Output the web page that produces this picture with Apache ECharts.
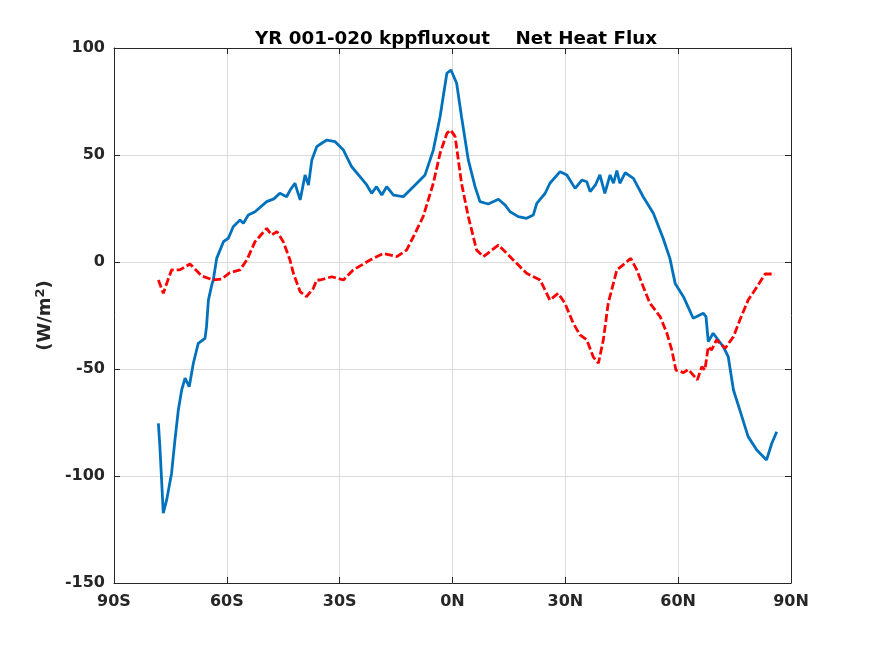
<!DOCTYPE html>
<html>
<head>
<meta charset="utf-8" />
<script src="https://cdn.jsdelivr.net/npm/echarts@6/dist/echarts.min.js"></script>
<style>
  html, body { margin: 0; padding: 0; background: #fff; }
  #chart { width: 875px; height: 656px; }
</style>
</head>
<body>
<div id="chart"></div>
<script>
// tick labels for the latitude axis
var xTickValues = [-90, -60, -30, 0, 30, 60, 90];
var xTickLabels = ['90S', '60S', '30S', '0N', '30N', '60N', '90N'];

// blue curve (solid)
var blueLat = [-78.2, -77.8, -77.3, -76.9, -76.0, -74.7, -73.8, -72.9, -72.0, -71.1, -70.0, -68.9, -67.6,
  -65.8, -65.4, -64.9, -64.0, -63.6, -62.7, -60.9, -59.6, -58.3, -56.5, -55.6, -54.3, -52.5, -49.4, -47.5,
  -45.9, -44.1, -43.2, -41.9, -40.5, -39.2, -38.3, -37.4, -36.1, -34.7, -33.4, -31.2, -29.0, -26.8, -24.6,
  -22.8, -21.5, -20.2, -18.8, -17.5, -15.7, -13.1, -10.4, -7.3, -5.1, -3.3, -1.5, -0.4, 1.1, 2.4, 4.2,
  6.0, 7.3, 9.5, 12.2, 14.0, 15.3, 17.5, 19.7, 21.5, 22.4, 24.6, 25.9, 28.6, 30.4, 32.6, 34.4, 35.7, 36.6,
  38.0, 39.2, 40.5, 41.9, 42.8, 43.7, 44.5, 45.9, 48.1, 50.7, 53.4, 56.0, 57.8, 59.2, 61.4, 64.0, 66.7,
  67.4, 68.0, 69.3, 72.0, 73.3, 74.7, 76.4, 78.6, 80.9, 83.5, 84.9, 86.2];
var blueVal = [-75.4, -86.3, -103.4, -117.4, -111.2, -98.8, -83.2, -69.2, -59.8, -54.3, -58.3, -47.3, -38.0,
  -35.7, -30.2, -17.8, -10.7, -8.4, 1.7, 9.5, 11.1, 16.5, 19.6, 18.1, 22.0, 23.5, 28.2, 29.5,
  32.1, 30.5, 33.5, 36.8, 29.0, 40.7, 36.0, 47.7, 53.9, 55.6, 57.0, 56.2, 52.3, 44.5, 39.9,
  36.0, 32.1, 35.2, 31.3, 35.2, 31.3, 30.5, 35.2, 40.7, 52.3, 67.9, 88.2, 89.7, 83.5, 67.9, 47.7,
  35.2, 28.2, 27.1, 29.3, 26.6, 23.5, 21.2, 20.4, 22.0, 27.4, 32.0, 36.8, 42.2, 40.7, 34.4, 38.3, 37.5, 32.9,
  36.0, 40.7, 32.1, 40.7, 36.8, 42.7, 36.8, 41.7, 39.1, 30.5, 22.8, 11.1, 1.7, -10.0, -16.2, -26.3, -24.0,
  -25.5, -37.2, -33.3, -39.6, -44.2, -59.8, -69.2, -81.6, -87.9, -92.5, -84.7, -79.3];

// red curve (dashed)
var redLat = [-78.2, -76.9, -74.7, -72.5, -69.8, -66.7, -63.6, -61.4, -59.2, -56.5, -54.7, -52.5, -49.4,
  -48.1, -46.7, -45.0, -43.2, -42.3, -40.5, -38.8, -37.0, -36.1, -35.2, -32.1, -29.0, -26.4, -21.9, -18.4,
  -14.8, -12.2, -10.4, -7.8, -5.1, -3.3, -1.5, -0.5, 0.7, 2.4, 4.2, 6.4, 8.2, 12.2, 15.3, 17.5, 19.7, 23.3,
  25.9, 28.1, 29.9, 32.1, 33.9, 35.7, 37.4, 38.8, 40.1, 41.4, 43.7, 45.9, 47.4, 49.0, 50.7, 52.5, 55.2, 57.0,
  58.3, 59.4, 61.4, 62.7, 65.1, 66.3, 67.1, 68.0, 68.9, 70.2, 72.5, 74.7, 76.4, 78.6, 80.4, 83.1, 85.7];
var redVal = [-8.4, -14.6, -3.7, -3.7, -0.9, -6.5, -8.4, -8.0, -5.0, -3.7, 0.9, 9.5, 15.7,
  12.6, 14.2, 9.5, 0.9, -5.3, -13.9, -16.2, -12.3, -8.4, -8.4, -6.9, -8.4, -3.7, 0.9, 4.0,
  2.5, 5.6, 11.8, 21.2, 36.8, 50.8, 60.1, 61.7, 58.6, 36.8, 21.2, 5.6, 2.5, 7.9, 2.5, -1.4, -5.3, -8.4,
  -17.8, -14.6, -19.3, -28.6, -34.1, -36.4, -44.3, -47.3, -36.4, -19.3, -3.7, -0.6, 1.7, -3.7, -11.5, -19.3, -25.5, -33.3,
  -41.1, -50.5, -51.7, -50.2, -55.1, -48.9, -50.5, -39.6, -41.1, -36.4, -40.3, -34.9, -27.1, -17.8, -13.1, -5.6, -5.6];

function pairs(xs, ys) {
  return xs.map(function (x, i) { return [x, ys[i]]; });
}

var font = 'DejaVu Sans';
var chart = echarts.init(document.getElementById('chart'));
chart.setOption({
  backgroundColor: '#ffffff',
  animation: false,
  title: {
    text: 'YR 001-020 kppfluxout    Net Heat Flux',
    left: 451, top: 25, textAlign: 'center',
    textStyle: { fontFamily: font, fontSize: 18.3, fontWeight: 'bold', color: '#000' }
  },
  grid: { left: 114, right: 84, top: 48, bottom: 73, containLabel: false },
  xAxis: [{
    type: 'value', min: -90, max: 90, interval: 30,
    axisLine: { onZero: false, lineStyle: { color: '#262626', width: 1 } },
    axisTick: { inside: true, length: 6, lineStyle: { color: '#262626' } },
    axisLabel: {
      margin: 11, fontFamily: font, fontSize: 16, fontWeight: 'bold', color: '#262626',
      formatter: function (v) { return xTickLabels[xTickValues.indexOf(v)]; }
    },
    splitLine: { show: true, lineStyle: { color: '#dcdcdc', width: 1 } }
  }, {
    type: 'value', min: -90, max: 90, interval: 30, position: 'top',
    axisLine: { onZero: false, lineStyle: { color: '#262626', width: 1 } },
    axisTick: { inside: true, length: 6, lineStyle: { color: '#262626' } },
    axisLabel: { show: false }, splitLine: { show: false }
  }],
  yAxis: [{
    type: 'value', min: -150, max: 100, interval: 50,
    name: '(W/m{sup|2})', nameLocation: 'middle', nameGap: 57, nameRotate: 90,
    nameTextStyle: {
      fontFamily: font, fontSize: 18, fontWeight: 'bold', color: '#262626',
      rich: { sup: { fontFamily: font, fontSize: 13, fontWeight: 'bold', color: '#262626', verticalAlign: 'top', padding: [0, 0, 9, 0] } }
    },
    axisLine: { onZero: false, lineStyle: { color: '#262626', width: 1 } },
    axisTick: { inside: true, length: 6, lineStyle: { color: '#262626' } },
    axisLabel: { margin: 9, fontFamily: font, fontSize: 16, fontWeight: 'bold', color: '#262626' },
    splitLine: { show: true, lineStyle: { color: '#dcdcdc', width: 1 } }
  }, {
    type: 'value', min: -150, max: 100, interval: 50, position: 'right',
    axisLine: { onZero: false, lineStyle: { color: '#262626', width: 1 } },
    axisTick: { inside: true, length: 6, lineStyle: { color: '#262626' } },
    axisLabel: { show: false }, splitLine: { show: false }
  }],
  series: [{
    name: 'blue', type: 'line', showSymbol: false, symbol: 'none',
    data: pairs(blueLat, blueVal),
    lineStyle: { color: '#0072BD', width: 2.8 }
  }, {
    name: 'red', type: 'line', showSymbol: false, symbol: 'none',
    data: pairs(redLat, redVal),
    lineStyle: { color: '#ff0000', width: 2.8, type: [8, 3] }
  }]
});
</script>
</body>
</html>
